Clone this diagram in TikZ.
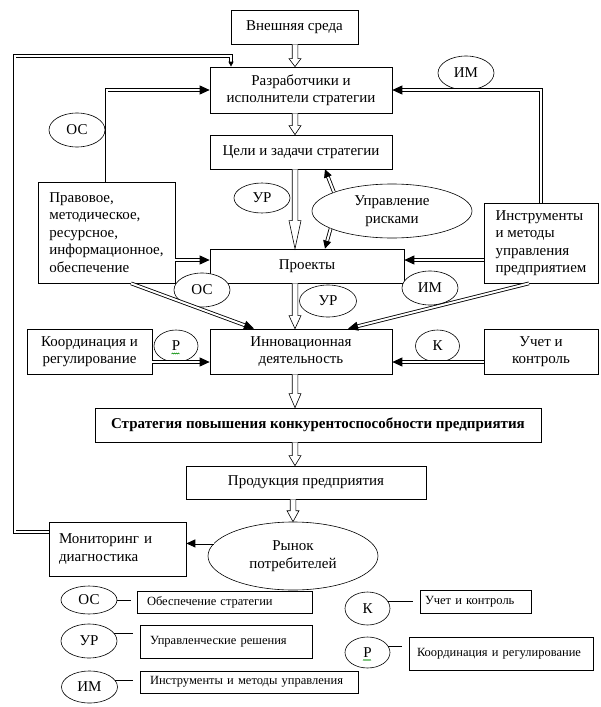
\documentclass[tikz,border=0pt]{standalone}
\usepackage{fontspec}
\setmainfont{Liberation Serif}
\usetikzlibrary{arrows.meta,calc,shapes.geometric}
\newcommand\mainfs{\fontsize{15}{17.5}\selectfont}
\newcommand\legfs{\fontsize{12.5}{14}\selectfont\spaceskip=2pt plus 1pt minus 0.5pt}
\newcommand\hollowarr[3]{\draw[hol] let \p1=#2, \p2=#3 in (\x1-2.8pt,\y1) -- (\x1-2.8pt,\y2+#1pt) -- (\x1-6pt,\y2+#1pt) -- (\x2,\y2) -- (\x1+6pt,\y2+#1pt) -- (\x1+2.8pt,\y2+#1pt) -- (\x1+2.8pt,\y1);}
\begin{document}
\begin{tikzpicture}[x=1pt,y=-1pt,
  box/.style={draw, line width=0.7pt, inner sep=0pt, align=center, font=\mainfs},
  ell/.style={draw, ellipse, line width=0.6pt, fill=white, inner sep=0pt, font=\mainfs, align=center},
  lell/.style={draw, ellipse, line width=0.6pt, fill=white, inner sep=0pt, font=\mainfs},
  lbox/.style={draw, line width=0.7pt, inner xsep=10pt, inner ysep=0pt, align=left, font=\legfs},
  dbl/.style={double, double distance=2pt, line width=0.85pt, -{Triangle[length=10pt,width=9pt]}},
  hol/.style={draw, line width=0.6pt, fill=white, line join=miter},
  lline/.style={line width=0.6pt}]
\useasboundingbox (0,0) rectangle (600,707);
% boxes
\node[box, minimum width=127pt, minimum height=34pt] (ext) at (294.5,27) {Внешняя среда};
\node[box, minimum width=182pt, minimum height=46pt] (dev) at (301,90) {Разработчики и\\исполнители стратегии};
\node[box, minimum width=182pt, minimum height=34pt] (goals) at (301,152) {Цели и задачи стратегии};
\node[box, minimum width=137pt, minimum height=101pt, align=left] (law) at (106.5,232.5) {Правовое,\\методическое,\\ресурсное,\\информационное,\\обеспечение};
\node[box, minimum width=194pt, minimum height=34pt] (proj) at (307,266) {Проекты};
\node[box, minimum width=114pt, minimum height=80pt, align=left] (tools) at (541,243) {Инструменты\\и методы\\управления\\предприятием};
\node[box, minimum width=182pt, minimum height=45pt] (inn) at (301,351.5) {Инновационная\\деятельность};
\node[box, minimum width=125pt, minimum height=45pt] (coord) at (89.5,351.5) {Координация и\\регулирование};
\node[box, minimum width=114pt, minimum height=45pt] (acc) at (541,351.5) {Учет и\\контроль};
\node[box, minimum width=446pt, minimum height=34pt, font=\mainfs\bfseries] (strat) at (318,425) {Стратегия повышения конкурентоспособности предприятия};
\node[box, minimum width=240pt, minimum height=33pt] (prod) at (306,482.5) {Продукция предприятия};
\node[box, minimum height=54pt, text width=117pt, inner xsep=10pt, align=left] (mon) at (117.5,549) {Мониторинг и\\диагностика};
% ellipses
\node[ell, minimum width=56pt, minimum height=34pt] (imA) at (466,73) {ИМ};
\node[ell, minimum width=56pt, minimum height=34pt] (osA) at (77,130) {ОС};
\node[ell, minimum width=56pt, minimum height=30pt] (urA) at (262,198) {УР};
\node[ell, minimum width=160pt, minimum height=54pt] (risk) at (392,211) {Управление\\рисками};
\node[ell, minimum width=56pt, minimum height=34pt] (osB) at (202,290) {ОС};
\node[ell, minimum width=57pt, minimum height=32pt] (urB) at (328,301) {УР};
\node[ell, minimum width=56pt, minimum height=34pt] (imB) at (430,288) {ИМ};
\node[ell, minimum width=44pt, minimum height=32pt] (rB) at (176,346) {Р};
\node[ell, minimum width=44pt, minimum height=32pt] (kB) at (437.5,346) {К};
\node[ell, minimum width=170pt, minimum height=68pt] (market) at (293,556) {Рынок\\потребителей};
\draw[green!55!black, line width=0.4pt] ($(rB.center)+(-4.5,8)$) -- ++(1,-1) -- ++(1,1) -- ++(1,-1) -- ++(1,1) -- ++(1,-1) -- ++(1,1) -- ++(1,-1) -- ++(1,1);
% hollow arrows
\coordinate (cx) at (295,0);
\hollowarr{8}{(ext.south -| cx)}{(dev.north -| cx)}
\hollowarr{9}{(dev.south -| cx)}{(goals.north -| cx)}
\hollowarr{28}{(goals.south -| cx)}{(proj.north -| cx)}
\hollowarr{13}{(proj.south -| cx)}{(inn.north -| cx)}
\hollowarr{14}{(inn.south -| cx)}{(strat.north -| cx)}
\hollowarr{10}{(strat.south -| cx)}{(prod.north -| cx)}
\hollowarr{11}{(prod.south -| market.north)}{(market.north)}
% double black arrows
\draw[dbl] (law.north) |- (dev.west);
\draw[dbl] (tools.north) |- (dev.east);
\coordinate (pw) at ([yshift=6pt]proj.west);
\coordinate (pe) at ([yshift=6pt]proj.east);
\draw[dbl] (law.east |- pw) -- (pw);
\draw[dbl] (tools.west |- pe) -- (pe);
\coordinate (iw) at ([yshift=-10.5pt]inn.west);
\coordinate (ie) at ([yshift=-10.5pt]inn.east);
\draw[dbl] (coord.east |- iw) -- (iw);
\draw[dbl] (acc.west |- ie) -- (ie);
\draw[dbl] ([xshift=24.5pt]law.south) -- ([xshift=-47pt]inn.north);
\draw[dbl] ([xshift=-12pt]tools.south) -- ([xshift=47pt]inn.north);
\draw[dbl, -{Triangle[length=8pt,width=8pt]}] (risk.162) -- ([xshift=24pt]goals.south);
\draw[dbl, -{Triangle[length=8pt,width=8pt]}] (risk.196) -- ([xshift=18pt]proj.north);
\draw[dbl, -{Triangle[length=9pt,width=8pt]}] (market.171) -- (mon.east |- market.171);
\coordinate (fbc) at (14.5,56);
\coordinate (monw) at ([yshift=17pt]mon.west);
\draw[dbl, -{Triangle[length=5pt,width=5pt]}] (monw) -| (fbc) -| ([xshift=-70pt]dev.north);
% legend
\node[lell, minimum width=56pt, minimum height=28pt] (lOS) at (89,600) {ОС};
\node[lbox, minimum height=22pt, text width=155pt] (dOS) at (224.5,602) {Обеспечение стратегии};
\node[lell, minimum width=56pt, minimum height=34pt] (lUR) at (89,641) {УР};
\node[lbox, minimum height=33pt, text width=152pt] (dUR) at (226,641.5) {Управленческие решения};
\node[lell, minimum width=56pt, minimum height=32pt] (lIM) at (89.5,687) {ИМ};
\node[lbox, minimum height=22pt, text width=198pt] (dIM) at (249,682) {Инструменты и методы управления};
\node[lell, minimum width=45pt, minimum height=33pt] (lK) at (367.5,608.5) {К};
\node[lbox, minimum height=23pt, text width=101pt, inner xsep=5pt] (dK) at (475.5,601.5) {Учет и контроль};
\node[lell, minimum width=45pt, minimum height=31pt] (lR) at (367.5,652.5) {Р};
\node[lbox, minimum height=33pt, text width=168pt, inner xsep=8pt] (dR) at (501,653.5) {Координация и регулирование};
\draw[green!55!black, line width=0.4pt] ($(lR.center)+(-4.5,8)$) -- ++(1,-1) -- ++(1,1) -- ++(1,-1) -- ++(1,1) -- ++(1,-1) -- ++(1,1) -- ++(1,-1) -- ++(1,1);
\draw[lline] (lOS.east) -- ([xshift=-6pt]dOS.west |- lOS.east);
\draw[lline] (lUR.17) -- ([xshift=-7pt]dUR.west |- lUR.17);
\draw[lline] (lIM.15) -- ([xshift=-7pt]dIM.west |- lIM.15);
\draw[lline] (lK.20) -- ([xshift=-7pt]dK.west |- lK.20);
\draw[lline] (lR.17) -- ([xshift=-7pt]dR.west |- lR.17);
\end{tikzpicture}
\end{document}
